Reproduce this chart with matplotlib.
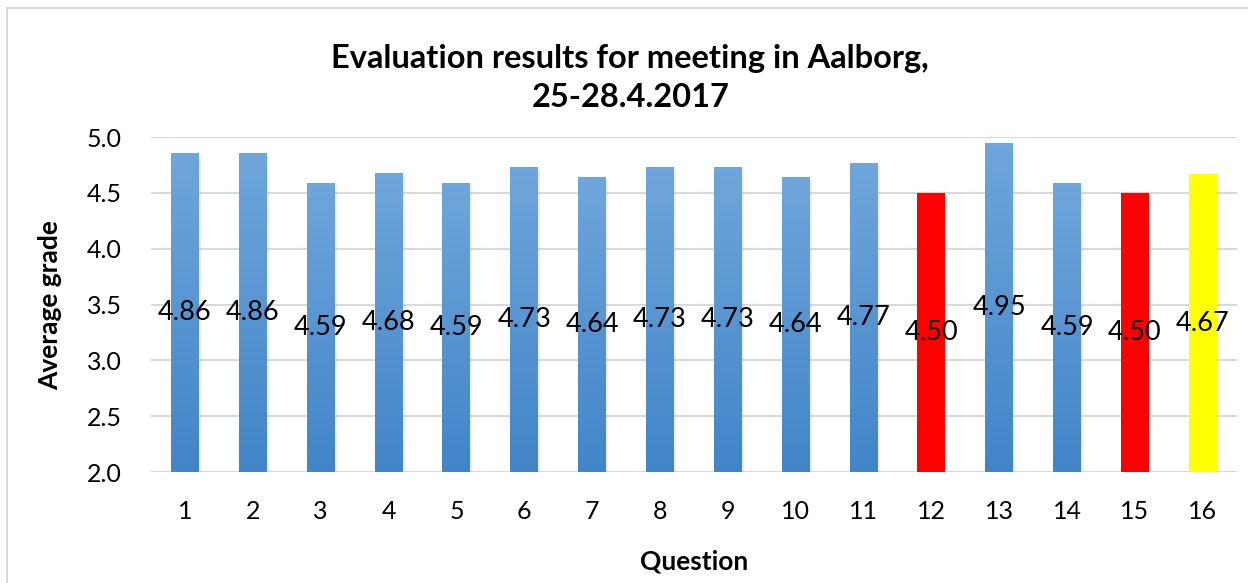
import matplotlib
matplotlib.use('Agg')
import matplotlib.pyplot as plt
import numpy as np
from matplotlib.patches import Rectangle
from matplotlib import patheffects as pe

questions = [str(i) for i in range(1, 17)]
grades = [4.86, 4.86, 4.59, 4.68, 4.59, 4.73, 4.64, 4.73,
          4.73, 4.64, 4.77, 4.50, 4.95, 4.59, 4.50, 4.67]
# special colours for some questions, None -> default blue gradient
bar_colors = [None] * 11 + ['#ff0000', None, None, '#ff0000', '#ffff00']

plt.rcParams['font.family'] = ['Lato', 'DejaVu Sans']

fig = plt.figure(figsize=(12.48, 5.83), dpi=100)
ax = fig.add_axes([0.121, 0.190, 0.870, 0.575])

# chart frame (light grey border)
fig.patches.append(Rectangle((7 / 1248, -0.1), 1.2, 1 - 8 / 583 + 0.1,
                             transform=fig.transFigure, fill=False,
                             edgecolor='#d9d9d9', linewidth=1.5))

base = 2.0
width = 0.41
x = np.arange(1, len(grades) + 1)

grad = np.linspace(0, 1, 256).reshape(-1, 1)
cmap = matplotlib.colors.LinearSegmentedColormap.from_list(
    'blue', ['#4185c8', '#6fa6dc'])

for xi, v, c in zip(x, grades, bar_colors):
    shadow = [pe.SimplePatchShadow(offset=(1.5, -1.5), alpha=0.12,
                                   shadow_rgbFace='#808080'), pe.Normal()]
    if c is None:
        r = ax.bar(xi, v - base, bottom=base, width=width, color='#5596d4',
                   zorder=2, path_effects=shadow)[0]
        im = ax.imshow(grad, cmap=cmap, aspect='auto', origin='lower',
                       extent=(xi - width / 2, xi + width / 2, base, v), zorder=3)
        im.set_clip_path(r)
    else:
        ax.bar(xi, v - base, bottom=base, width=width, color=c,
               zorder=2, path_effects=shadow)
    ax.text(xi, (base + v) / 2, f'{v:.2f}', ha='center', va='center',
            fontsize=19.5, color='black', zorder=4)

ax.set_xlim(0.5, len(grades) + 0.5)
ax.set_ylim(2.0, 5.0)
ax.set_yticks(np.arange(2.0, 5.01, 0.5))
ax.set_yticklabels([f'{t:.1f}' for t in np.arange(2.0, 5.01, 0.5)])
ax.set_xticks(x)
ax.set_xticklabels(questions)
ax.tick_params(axis='both', length=0, labelsize=18)
ax.tick_params(axis='y', pad=21)
ax.tick_params(axis='x', pad=20)
ax.grid(axis='y', color='#d9d9d9', linewidth=1.5, zorder=0)
ax.set_axisbelow(True)
for s in ax.spines.values():
    s.set_visible(False)

ax.set_ylabel('Average grade', fontsize=19, fontweight='bold', labelpad=18)
ax.set_xlabel('Question', fontsize=19, fontweight='bold', labelpad=19)
fig.text(0.505, 0.866, 'Evaluation results for meeting in Aalborg,\n25-28.4.2017',
         ha='center', va='center', fontsize=23.5, fontweight='bold',
         linespacing=1.42)

fig.savefig('out.png', dpi=100)
